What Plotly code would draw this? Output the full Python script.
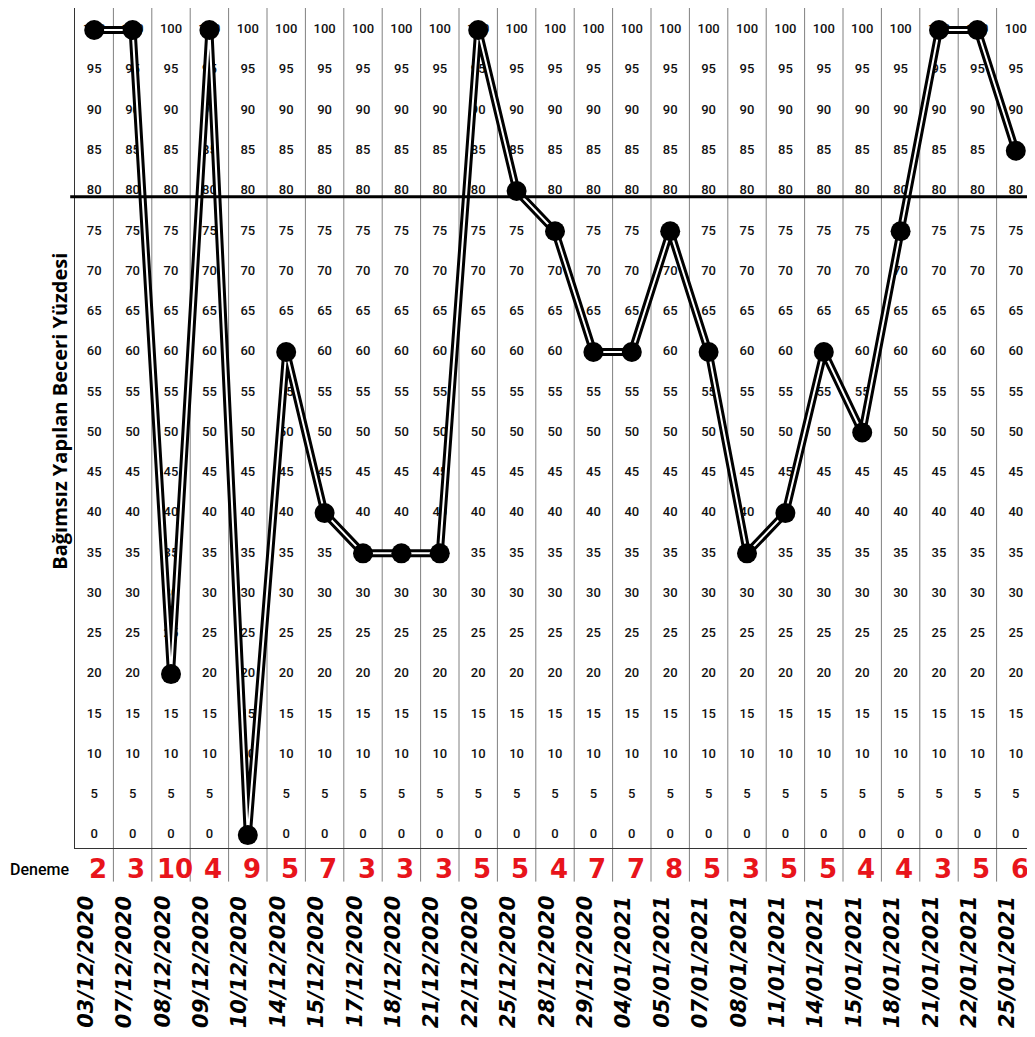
import plotly.graph_objects as go

dates = ['03/12/2020', '07/12/2020', '08/12/2020', '09/12/2020', '10/12/2020',
         '14/12/2020', '15/12/2020', '17/12/2020', '18/12/2020', '21/12/2020',
         '22/12/2020', '25/12/2020', '28/12/2020', '29/12/2020', '04/01/2021',
         '05/01/2021', '07/01/2021', '08/01/2021', '11/01/2021', '14/01/2021',
         '15/01/2021', '18/01/2021', '21/01/2021', '22/01/2021', '25/01/2021']
yuzde = [100, 100, 20, 100, 0, 60, 40, 35, 35, 35, 100, 80, 75, 60, 60,
         75, 60, 35, 40, 60, 50, 75, 100, 100, 85]
deneme = [2, 3, 10, 4, 9, 5, 7, 3, 3, 3, 5, 5, 4, 7, 7, 8, 5, 3, 5, 5, 4, 4, 3, 5, 6]
scale_ticks = list(range(0, 101, 5))
criterion = 79.3

n = len(dates)
idx = list(range(n))

fig = go.Figure()

# numbers printed inside every column
tx, ty, tt = [], [], []
for i in idx:
    for v in scale_ticks:
        tx.append(i)
        ty.append(v)
        tt.append(str(v))
fig.add_trace(go.Scatter(
    x=tx, y=ty, text=tt, mode='text',
    textfont=dict(family='Roboto', size=13, color='#111111', weight=500),
    hoverinfo='skip', showlegend=False
))

# double stroke line + markers
fig.add_trace(go.Scatter(x=idx, y=yuzde, mode='lines',
                         line=dict(color='black', width=8), showlegend=False))
fig.add_trace(go.Scatter(x=idx, y=yuzde, mode='lines',
                         line=dict(color='white', width=2), showlegend=False))
fig.add_trace(go.Scatter(x=idx, y=yuzde, mode='markers',
                         marker=dict(color='black', size=20), showlegend=False,
                         cliponaxis=False))

shapes = []
for i in range(n - 1):
    shapes.append(dict(type='line', xref='x', yref='paper', x0=i + 0.5, x1=i + 0.5,
                       y0=-0.04, y1=1, line=dict(color='#808080', width=1), layer='below'))
shapes.append(dict(type='line', xref='paper', yref='y', x0=-0.005, x1=1,
                   y0=criterion, y1=criterion, line=dict(color='black', width=3)))

annotations = []
for i in idx:
    annotations.append(dict(
        x=i + 0.1, y=0, xref='x', yref='paper', yanchor='top', yshift=-4,
        text=str(deneme[i]), showarrow=False,
        font=dict(family='DejaVu Sans', size=26, color='#e8141b', weight='bold')
    ))
    annotations.append(dict(
        x=i - 0.22, y=0, xref='x', yref='paper', yanchor='top', yshift=-46,
        text=dates[i], showarrow=False, textangle=-90,
        font=dict(family='DejaVu Sans', size=21, color='black', weight='bold', style='italic')
    ))
annotations.append(dict(
    x=0, y=0, xref='paper', yref='paper', xanchor='left', yanchor='top',
    xshift=-67, yshift=-10, text='Deneme', showarrow=False,
    font=dict(family='Roboto', size=16, color='black', weight=500)
))
annotations.append(dict(
    x=0, y=0.52, xref='paper', yref='paper', xanchor='right', yanchor='middle',
    xshift=0, text='<b>Bağımsız Yapılan Beceri Yüzdesi</b>', showarrow=False,
    textangle=-90, font=dict(family='Open Sans', size=20, color='black')
))

fig.update_layout(
    width=1027,
    height=1021,
    margin=dict(l=67, r=0, t=0, b=181),
    plot_bgcolor='white',
    paper_bgcolor='white',
    shapes=shapes,
    annotations=annotations,
    xaxis=dict(
        range=[-0.5, n - 0.5],
        showgrid=False, zeroline=False, showticklabels=False,
        showline=True, linecolor='#333333', linewidth=1, mirror=True
    ),
    yaxis=dict(
        range=[-1.6, 102.73],
        showgrid=False, zeroline=False, showticklabels=False,
        showline=True, linecolor='#333333', linewidth=1, mirror=True
    )
)

fig.write_html("out.html")
